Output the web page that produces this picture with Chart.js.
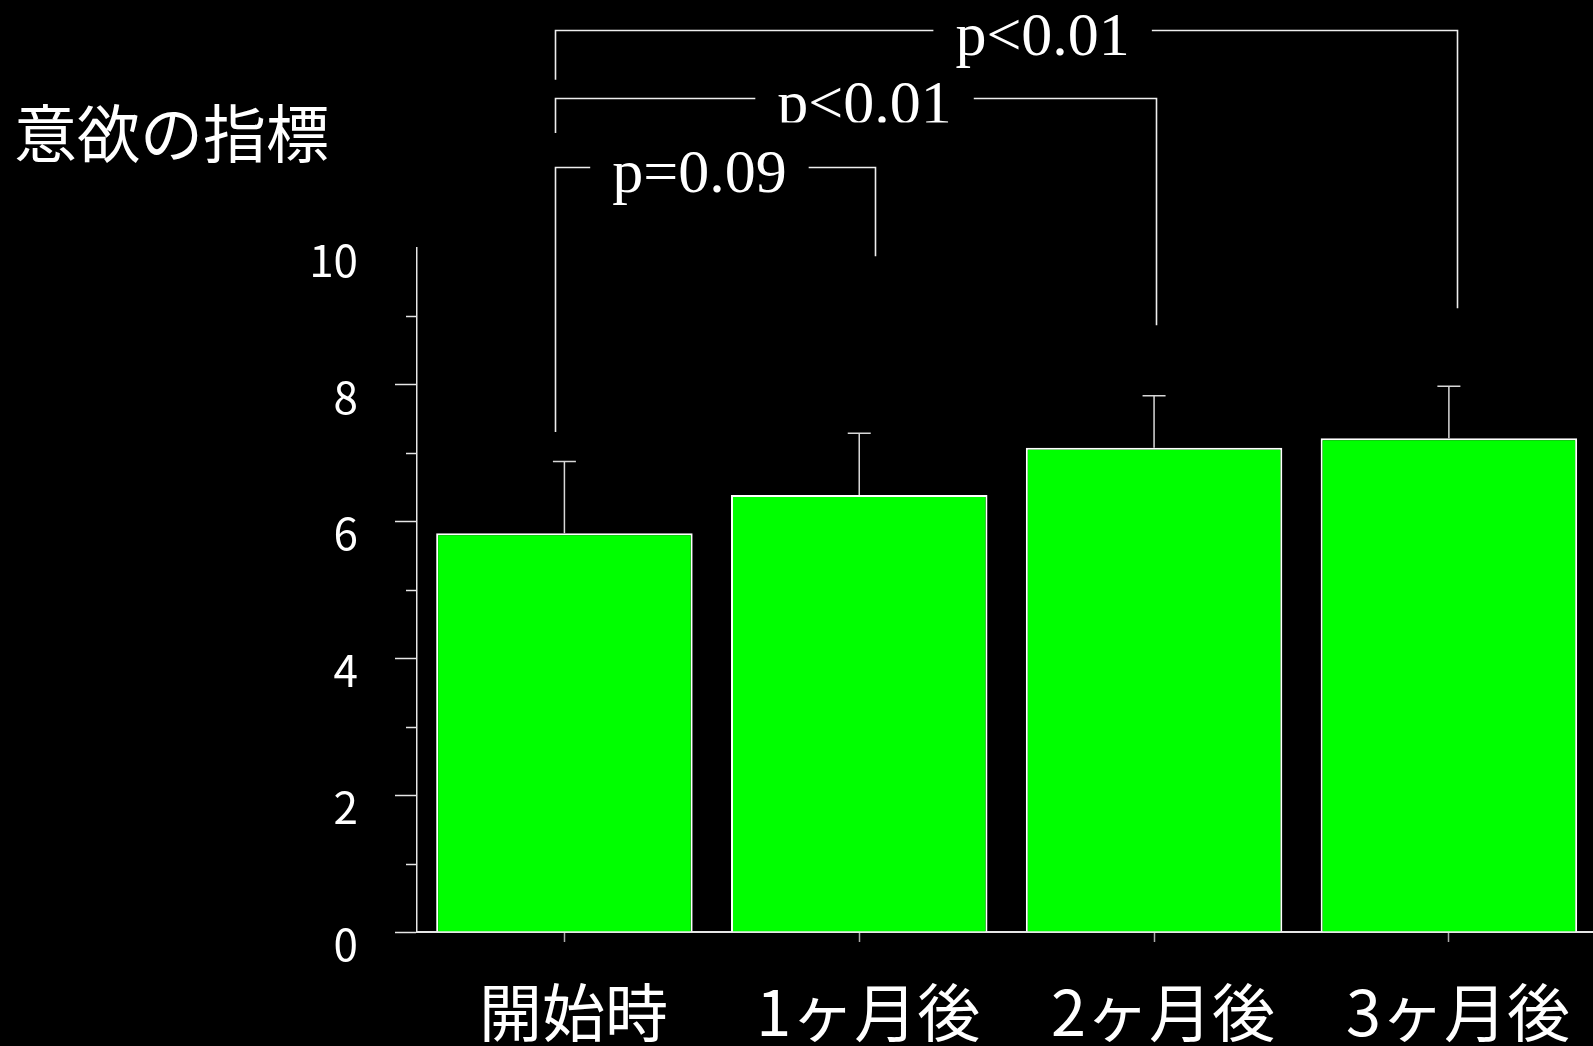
<!DOCTYPE html>
<html lang="ja">
<head>
<meta charset="utf-8">
<title>意欲の指標</title>
<script src="https://cdn.jsdelivr.net/npm/chart.js@4/dist/chart.umd.min.js"></script>
<style>
    html, body { margin: 0; padding: 0; background: #000; overflow: hidden; }
    #wrap { width: 1600px; height: 1046px; }
</style>
</head>
<body>
<div id="wrap"><canvas id="motivationChart" width="1600" height="1046"></canvas></div>
<script>
// データ
const categories = ['開始時', '1ヶ月後', '2ヶ月後', '3ヶ月後'];
const means = [5.83, 6.39, 7.08, 7.22];
const errors = [1.05, 0.90, 0.76, 0.76];
const yTitle = '意欲の指標';

// 有意差の括弧
const bracketLabels = ['p=0.09', 'p<0.01', 'p<0.01'];
const bracketFrom = [0, 0, 0];
const bracketTo = [1, 2, 3];
const bracketLevel = [11.18, 12.19, 13.19];
const bracketLeftEnd = [7.31, 11.68, 12.46];
const bracketRightEnd = [9.88, 8.87, 9.12];

const AXIS_COLOR = '#e6e6e6';
const CJK_FONT = '"Noto Sans CJK JP", "Noto Sans", sans-serif';
const SERIF_FONT = '"Liberation Serif", "DejaVu Serif", serif';

// 誤差棒
const errorBarPlugin = {
    id: 'errorBars',
    afterDatasetsDraw(chart) {
        const ctx = chart.ctx;
        const yScale = chart.scales.y;
        const meta = chart.getDatasetMeta(0);
        ctx.save();
        ctx.strokeStyle = '#d8d8d8';
        ctx.lineWidth = 1.5;
        meta.data.forEach((bar, i) => {
            const top = yScale.getPixelForValue(means[i] + errors[i]);
            ctx.beginPath();
            ctx.moveTo(bar.x, bar.y);
            ctx.lineTo(bar.x, top);
            ctx.moveTo(bar.x - 11.5, top);
            ctx.lineTo(bar.x + 11.5, top);
            ctx.stroke();
        });
        ctx.restore();
    },
};

// 補助目盛り・タイトル・括弧
const annotationPlugin = {
    id: 'annotations',
    afterDraw(chart) {
        const ctx = chart.ctx;
        const x = chart.scales.x;
        const y = chart.scales.y;
        ctx.save();

        // 奇数の目盛り (短い)
        ctx.strokeStyle = AXIS_COLOR;
        ctx.lineWidth = 1.5;
        y.ticks.forEach((t) => {
            if (t.value % 2 === 1) {
                const py = Math.round(y.getPixelForValue(t.value)) + 0.5;
                ctx.beginPath();
                ctx.moveTo(y.right - 11, py);
                ctx.lineTo(y.right, py);
                ctx.stroke();
            }
        });

        // 縦軸タイトル
        ctx.fillStyle = '#ffffff';
        ctx.font = '63px ' + CJK_FONT;
        ctx.textAlign = 'left';
        ctx.textBaseline = 'middle';
        ctx.fillText(yTitle, 14, 133);

        // 括弧
        const leftShift = -0.033;
        const rightShift = [0.055, 0.008, 0.027];
        const labelPos = [0.458, 1.018, 1.622];
        ctx.font = '62px ' + SERIF_FONT;
        ctx.textAlign = 'center';
        ctx.textBaseline = 'alphabetic';
        bracketLabels.forEach((label, i) => {
            const x1 = Math.round(x.getPixelForValue(bracketFrom[i] + leftShift)) + 0.5;
            const x2 = Math.round(x.getPixelForValue(bracketTo[i] + rightShift[i])) + 0.5;
            const ly = Math.round(y.getPixelForValue(bracketLevel[i])) + 0.5;
            const lx = x.getPixelForValue(labelPos[i]);
            const half = ctx.measureText(label).width / 2 + 22;

            ctx.strokeStyle = '#eeeeee';
            ctx.lineWidth = 1.6;
            ctx.beginPath();
            ctx.moveTo(x1, y.getPixelForValue(bracketLeftEnd[i]));
            ctx.lineTo(x1, ly);
            ctx.lineTo(lx - half, ly);
            ctx.moveTo(lx + half, ly);
            ctx.lineTo(x2, ly);
            ctx.lineTo(x2, y.getPixelForValue(bracketRightEnd[i]));
            ctx.stroke();

            const base = ly + 24;
            ctx.save();
            if (i === 1) {
                // 中段のラベルは下端が切れている
                ctx.beginPath();
                ctx.rect(lx - half, 0, half * 2, base);
                ctx.clip();
            }
            ctx.fillText(label, lx, base);
            ctx.restore();
        });

        ctx.restore();
    },
};

const chart = new Chart(document.getElementById('motivationChart'), {
    type: 'bar',
    data: {
        labels: categories,
        datasets: [{
            data: means,
            backgroundColor: '#00ff00',
            borderColor: '#ffffff',
            borderWidth: 2,
            barPercentage: 0.87,
            categoryPercentage: 1.0,
        }],
    },
    options: {
        responsive: false,
        animation: false,
        layout: { padding: { top: 248, right: 1, left: 0, bottom: 0 } },
        plugins: {
            legend: { display: false },
            tooltip: { enabled: false },
        },
        scales: {
            x: {
                afterFit: (scale) => { scale.height = 114; },
                border: { color: AXIS_COLOR, width: 2 },
                grid: {
                    offset: false,
                    drawOnChartArea: false,
                    tickLength: 10,
                    tickColor: '#aaaaaa',
                    tickWidth: 1.5,
                },
                ticks: {
                    color: '#ffffff',
                    font: { family: CJK_FONT, size: 63, lineHeight: 1 },
                    padding: 39,
                    labelOffset: 9,
                    maxRotation: 0,
                    autoSkip: false,
                },
            },
            y: {
                min: 0,
                max: 10,
                afterFit: (scale) => { scale.width = 417; },
                border: { color: AXIS_COLOR, width: 1.5 },
                grid: {
                    drawOnChartArea: false,
                    tickLength: 22,
                    tickWidth: 1.5,
                    // 奇数は短い目盛りを別に描く; 最上段の10には目盛りなし
                    tickColor: (c) => (c.tick && (c.tick.value % 2 === 1 || c.tick.value === 10) ? 'rgba(0,0,0,0)' : AXIS_COLOR),
                },
                ticks: {
                    stepSize: 1,
                    autoSkip: false,
                    color: '#ffffff',
                    font: { family: CJK_FONT, size: 44 },
                    padding: 37,
                    labelOffset: 12,
                    callback: (v) => (v % 2 === 0 ? String(v) : ''),
                },
            },
        },
    },
    plugins: [errorBarPlugin, annotationPlugin],
});
</script>
</body>
</html>
